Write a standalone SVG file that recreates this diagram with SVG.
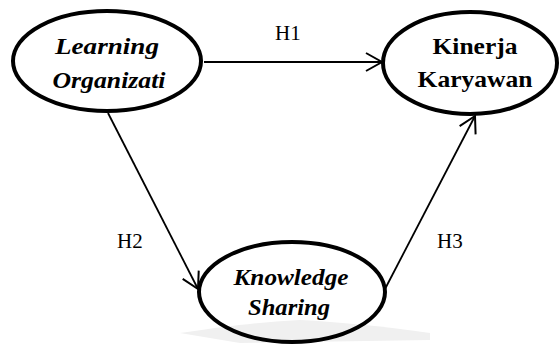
<svg xmlns="http://www.w3.org/2000/svg" width="560" height="347" viewBox="0 0 560 347">
<defs>
<style>
.node{fill:#fff;stroke:#000;stroke-width:4}
.lbl{font-family:'Liberation Serif','Times New Roman',serif;font-weight:bold;font-size:23px;fill:#000;text-anchor:middle}
.it{font-style:italic}
.h{font-family:'Liberation Serif','Times New Roman',serif;font-size:21px;fill:#000}
.conn{stroke:#000;stroke-width:1.8;fill:none;marker-end:url(#arr)}
</style>
<marker id="arr" viewBox="0 0 20 20" refX="18" refY="10" markerWidth="20" markerHeight="20" markerUnits="userSpaceOnUse" orient="auto">
<path d="M2,1 L18,10 L2,19" fill="none" stroke="#000" stroke-width="2"/>
</marker>
</defs>
<rect width="560" height="347" fill="#fff"/>
<g id="watermark">
<path d="M180,333 C230,326 260,322 300,320 C340,322 380,326 430,333 L430,340 L240,343 Z" fill="#f0f0f0"/>
</g>
<g id="connectors">
<line class="conn" x1="204" y1="62" x2="382" y2="62"/>
<line class="conn" x1="108" y1="113" x2="198" y2="289"/>
<line class="conn" x1="385" y1="289" x2="475" y2="116"/>
</g>
<g id="learning-organizati">
<ellipse class="node" cx="107" cy="61" rx="94" ry="50"/>
<text class="lbl it" x="107" y="54" textLength="104" lengthAdjust="spacingAndGlyphs">Learning</text>
<text class="lbl it" x="109" y="88" textLength="113" lengthAdjust="spacingAndGlyphs">Organizati</text>
</g>
<g id="kinerja-karyawan">
<ellipse class="node" cx="470" cy="63" rx="87" ry="51"/>
<text class="lbl" x="475" y="54" textLength="85" lengthAdjust="spacingAndGlyphs">Kinerja</text>
<text class="lbl" x="475" y="87" textLength="115" lengthAdjust="spacingAndGlyphs">Karyawan</text>
</g>
<g id="knowledge-sharing">
<ellipse class="node" cx="292" cy="292" rx="93" ry="50" fill-opacity="0"/>
<text class="lbl it" x="291" y="285" textLength="115" lengthAdjust="spacingAndGlyphs">Knowledge</text>
<text class="lbl it" x="289" y="315" textLength="82" lengthAdjust="spacingAndGlyphs">Sharing</text>
</g>
<g id="labels">
<text class="h" x="275" y="40">H1</text>
<text class="h" x="117" y="248">H2</text>
<text class="h" x="437" y="248">H3</text>
</g>
</svg>
